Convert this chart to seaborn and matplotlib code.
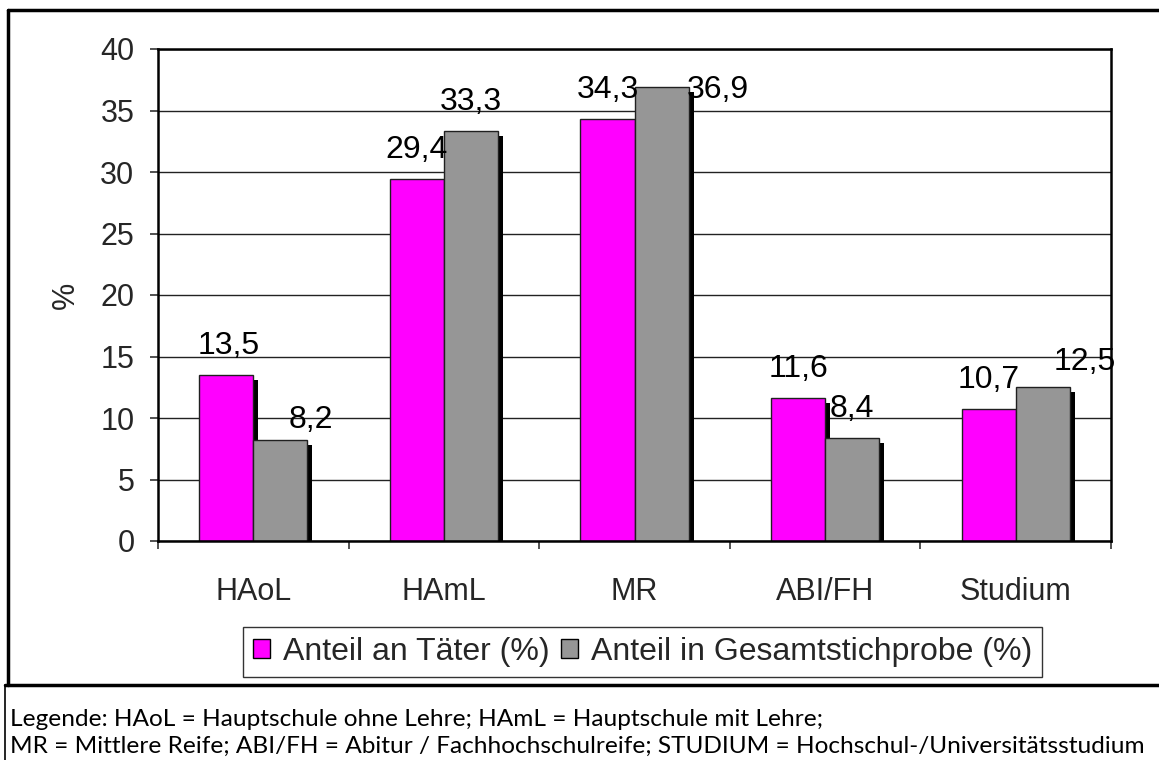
import matplotlib
matplotlib.use("Agg")
import matplotlib.pyplot as plt
import matplotlib.patheffects as pe
from matplotlib.lines import Line2D
from matplotlib.patches import Rectangle
import seaborn as sns
import pandas as pd

# Bildungsabschluss: Anteil an Tätern vs. Anteil in der Gesamtstichprobe
categories = ["HAoL", "HAmL", "MR", "ABI/FH", "Studium"]
series_names = ["Anteil an Täter (%)", "Anteil in Gesamtstichprobe (%)"]
taeter = [13.5, 29.4, 34.3, 11.6, 10.7]
gesamt = [8.2, 33.3, 36.9, 8.4, 12.5]
y_ticks = [0, 5, 10, 15, 20, 25, 30, 35, 40]
note_lines = [
    "Legende: HAoL = Hauptschule ohne Lehre; HAmL = Hauptschule mit Lehre;",
    "MR = Mittlere Reife; ABI/FH = Abitur / Fachhochschulreife; STUDIUM = Hochschul-/Universitätsstudium",
]

df = pd.DataFrame({
    "Abschluss": categories * 2,
    "Serie": [series_names[0]] * len(categories) + [series_names[1]] * len(categories),
    "Wert": taeter + gesamt,
})

sns.set_theme(style="white")
plt.rcParams["font.family"] = ["Liberation Sans", "DejaVu Sans"]

W, H = 1159, 760
DPI = 100
fig = plt.figure(figsize=(W / DPI, H / DPI), dpi=DPI)
fig.patch.set_facecolor("white")

def px(x0, y0, x1, y1):
    return [x0 / W, 1 - y1 / H, (x1 - x0) / W, (y1 - y0) / H]

ax = fig.add_axes(px(158, 49, 1111, 541))

palette = {series_names[0]: "#FF00FF", series_names[1]: "#969696"}
sns.barplot(data=df, x="Abschluss", y="Wert", hue="Serie", order=categories,
            hue_order=series_names, palette=palette, width=0.567, dodge=True,
            saturation=1, edgecolor="#202020", linewidth=1.0, ax=ax, legend=False)

shadow = [pe.SimplePatchShadow(offset=(3.6, -3.6), shadow_rgbFace="black", alpha=1.0),
          pe.Normal()]
bars = [p for p in ax.patches if isinstance(p, Rectangle)]
for b in bars:
    b.set_path_effects(shadow)

ax.set_ylim(0, 40)
ax.set_xlim(-0.5, len(categories) - 0.5)
ax.set_yticks(y_ticks)
ax.set_yticklabels([str(t) for t in y_ticks])
ax.yaxis.grid(True, color="#222222", linewidth=1.0)
ax.set_axisbelow(True)

for s in ["left", "right", "top", "bottom"]:
    ax.spines[s].set_visible(True)
    ax.spines[s].set_color("black")
    ax.spines[s].set_linewidth(1.8)

ax.tick_params(axis="y", which="major", direction="out", length=6, width=1.2,
               color="#333333", labelsize=22, pad=11, left=True)
ax.set_xticks(range(len(categories)))
ax.set_xticklabels(categories)
ax.set_xticks([i - 0.5 for i in range(len(categories) + 1)], minor=True)
ax.tick_params(axis="x", which="major", length=0, labelsize=22, pad=26)
ax.tick_params(axis="x", which="minor", direction="out", length=6, width=1.2,
               color="#333333", bottom=True)
ax.set_xlabel("")
ax.set_ylabel("%", fontsize=22, labelpad=14)

# Wertbeschriftungen (Pixelverschiebung für überlappende Beschriftungen)
label_shift_px = [(2, 0), (0, 0), (0, 0), (0, 0), (0, 0),
                  (31, 9), (0, 0), (56, 32), (0, 0), (42, 4)]
values = taeter + gesamt
for b, v, (dx, dy) in zip(bars, values, label_shift_px):
    cx = b.get_x() + b.get_width() / 2
    ax.annotate(f"{v:.1f}".replace(".", ","), xy=(cx, b.get_height()),
                xytext=(dx * 0.72, (21 - dy) * 0.72), textcoords="offset points",
                ha="center", va="baseline", fontsize=23, color="black",
                annotation_clip=False)

handles = [Rectangle((0, 0), 1, 1, facecolor=palette[n], edgecolor="black", linewidth=1)
           for n in series_names]
leg = fig.legend(handles, series_names, loc="center",
                 bbox_to_anchor=((241 + 1044) / 2 / W, 1 - 652 / H),
                 ncol=2, fontsize=23, frameon=True, fancybox=False,
                 handlelength=0.55, handleheight=0.55, handletextpad=0.4,
                 columnspacing=0.35, borderpad=0.3, borderaxespad=0)
leg.get_frame().set_edgecolor("black")
leg.get_frame().set_linewidth(1.0)

# Rahmen um das Diagramm und Tabellenlinien
fig.add_artist(Line2D([8 / W, 8 / W], [1 - 10 / H, 1 - 685 / H], transform=fig.transFigure,
                      color="black", linewidth=2.5))
fig.add_artist(Line2D([8 / W, 1.0], [1 - 10 / H, 1 - 10 / H], transform=fig.transFigure,
                      color="black", linewidth=2.5))
fig.add_artist(Line2D([5 / W, 1.0], [1 - 685 / H, 1 - 685 / H], transform=fig.transFigure,
                      color="black", linewidth=2.5))
fig.add_artist(Line2D([5 / W, 5 / W], [1 - 685 / H, 0.0], transform=fig.transFigure,
                      color="black", linewidth=1.2))

for i, line in enumerate(note_lines):
    fig.text(10 / W, 1 - (719 + 27 * i) / H, line, ha="left", va="center",
             fontsize=17.6, family=["Lato", "DejaVu Sans"], fontweight="normal",
             color="black")

fig.savefig("out.png", dpi=DPI, facecolor="white")
